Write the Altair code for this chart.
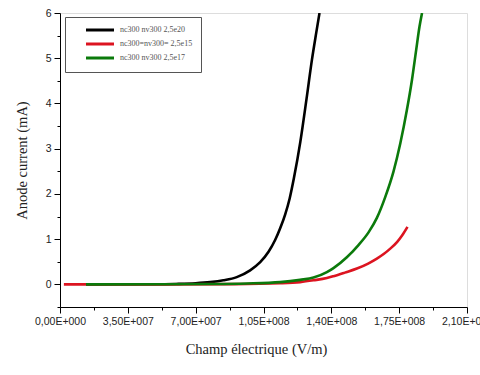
import altair as alt
import pandas as pd

# Series labels (legend order)
labels = ["nc300  nv300  2,5e20", "nc300=nv300= 2,5e15", "nc300  nv300  2,5e17"]
colors = ["#000000", "#dc1420", "#0b7a0b"]

# Black series
black_x = [1.34e7, 5.0e7, 6.0e7, 7.0e7, 7.75e7, 8.43e7, 9.12e7, 9.81e7, 1.033e8, 1.076e8,
           1.11e8, 1.136e8, 1.162e8, 1.185e8, 1.207e8, 1.24e8, 1.272e8, 1.30e8, 1.322e8, 1.339e8]
black_y = [0.0, 0.003, 0.01, 0.025, 0.05, 0.09, 0.16, 0.31, 0.49, 0.72,
           0.98, 1.24, 1.55, 1.9, 2.35, 3.15, 4.1, 4.97, 5.56, 6.0]

# Red series
red_x = [2.0e6, 5.0e7, 9.0e7, 1.136e8, 1.239e8, 1.308e8, 1.377e8, 1.411e8, 1.47e8,
         1.532e8, 1.59e8, 1.635e8, 1.67e8, 1.704e8, 1.74e8, 1.765e8, 1.793e8]
red_y = [0.0, 0.001, 0.006, 0.025, 0.05, 0.09, 0.14, 0.18, 0.26,
         0.35, 0.46, 0.57, 0.67, 0.79, 0.94, 1.08, 1.27]

# Green series
green_x = [1.34e7, 5.0e7, 8.0e7, 9.64e7, 1.136e8, 1.239e8, 1.308e8, 1.377e8, 1.411e8,
           1.48e8, 1.54e8, 1.592e8, 1.635e8, 1.678e8, 1.721e8, 1.756e8, 1.79e8,
           1.816e8, 1.838e8, 1.855e8, 1.868e8]
green_y = [0.0, 0.002, 0.008, 0.02, 0.05, 0.10, 0.15, 0.27, 0.36,
           0.60, 0.87, 1.15, 1.47, 1.93, 2.5, 3.12, 3.86,
           4.52, 5.19, 5.70, 6.0]

x_ticks = [0, 17500000, 35000000, 52500000, 70000000, 87500000, 105000000,
           122500000, 140000000, 157500000, 175000000, 192500000, 210000000]
y_ticks = [-0.5, 0, 0.5, 1, 1.5, 2, 2.5, 3, 3.5, 4, 4.5, 5, 5.5, 6]

series = [(labels[0], black_x, black_y), (labels[1], red_x, red_y), (labels[2], green_x, green_y)]
frames = []
for name, xs, ys in series:
    frames.append(pd.DataFrame({"E": xs, "I": ys, "serie": name}))
df = pd.concat(frames, ignore_index=True)

x_label_expr = (
    "datum.value % 35000000 != 0 ? '' : (datum.value == 0 ? '0,00E+000' : "
    "replace(format(datum.value / pow(10, floor(log(datum.value) / LN10)), '.2f'), '.', ',')"
    " + 'E+' + pad(toString(floor(log(datum.value) / LN10)), 3, '0', 'left'))"
)

x_enc = alt.X(
    "E:Q",
    scale=alt.Scale(domain=[0, 2.1e8], nice=False, zero=False),
    axis=alt.Axis(
        values=x_ticks,
        labelExpr=x_label_expr,
        title="Champ électrique (V/m)",
        titleFont="Liberation Serif",
        titleFontSize=14.5,
        titleFontWeight="normal",
        titleColor="#222",
        titlePadding=16,
        titleX=196,
        labelFont="Liberation Sans",
        labelFontSize=10.5,
        labelColor="#222",
        labelPadding=3,
        labelOverlap=False,
        labelFlush=False,
        tickSize={"condition": {"test": "datum.value % 35000000 == 0", "value": 6}, "value": 3},
        tickColor="#000",
        domainColor="#000",
        grid=False,
    ),
)

y_enc = alt.Y(
    "I:Q",
    scale=alt.Scale(domain=[-0.5, 6], nice=False, zero=False),
    axis=alt.Axis(
        values=y_ticks,
        labelExpr="datum.value % 1 == 0 ? format(datum.value, 'd') : ''",
        title="Anode current (mA)",
        titleFont="Liberation Serif",
        titleFontSize=14.5,
        titleFontWeight="normal",
        titleColor="#222",
        titlePadding=16,
        labelFont="Liberation Sans",
        labelFontSize=10.5,
        labelColor="#222",
        labelPadding=3,
        labelOverlap=False,
        labelFlush=False,
        tickSize={"condition": {"test": "datum.value % 1 == 0", "value": 6}, "value": 3},
        tickColor="#000",
        domainColor="#000",
        grid=False,
    ),
)

color_enc = alt.Color(
    "serie:N",
    scale=alt.Scale(domain=labels, range=colors),
    sort=labels,
    legend=alt.Legend(
        title=None,
        orient="none",
        legendX=5,
        legendY=4,
        symbolType="M-4,0L4,0",
        symbolStrokeWidth=3,
        symbolSize=49,
        symbolOffset=22,
        labelFont="Liberation Serif",
        labelFontSize=8,
        labelColor="#555",
        labelOffset=15,
        labelExpr="datum.label + '\u2003\u2003\u2002'",
        strokeColor="#555",
        fillColor="#fff",
        padding=8,
        rowPadding=2,
    ),
)

layers = []
for name, _, _ in series:
    layers.append(
        alt.Chart(df)
        .transform_filter(alt.datum.serie == name)
        .mark_line(strokeWidth=2.6, interpolate="monotone", clip=True)
        .encode(x=x_enc, y=y_enc, color=color_enc)
    )

chart = (
    alt.layer(*layers)
    .properties(
        width=407,
        height=294,
        autosize=alt.AutoSizeParams(type="none"),
        padding={"left": 60, "top": 13, "right": 13, "bottom": 68},
    )
    .configure_view(stroke="#333", strokeWidth=1)
    .configure(background="white")
)

chart.save("out.html", embed_options={"renderer": "svg", "actions": False})
